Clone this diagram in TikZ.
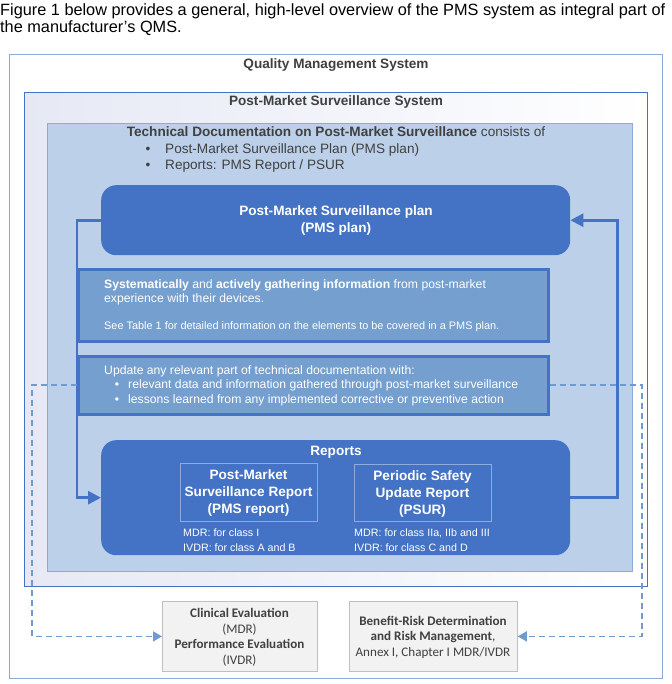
\documentclass[tikz,border=0pt]{standalone}
\usepackage{fontspec}
\setmainfont{Liberation Sans}
\newfontfamily\carlitofont{Carlito}
\usetikzlibrary{arrows.meta}
\definecolor{dblue}{HTML}{4472C4}
\definecolor{qmsline}{HTML}{8EAADB}
\definecolor{tdfill}{HTML}{BDD0E9}
\definecolor{tdline}{HTML}{8EAADB}
\definecolor{midblue}{HTML}{749FCF}
\definecolor{dashblue}{HTML}{6F9BD1}
\definecolor{inline}{HTML}{8FAADC}
\definecolor{greyfill}{HTML}{F2F2F2}
\definecolor{greyline}{HTML}{BFBFBF}
\definecolor{dtext}{HTML}{404040}
\definecolor{lavender}{HTML}{E6E9F5}
\newcommand{\fs}[1]{\fontsize{#1}{#1}\selectfont}
\begin{document}
\begin{tikzpicture}[x=1pt,y=-1pt,
  lbl/.style={inner sep=0pt, text height=0.95em, text depth=0.15em},
  boxnw/.style={anchor=north west, inner sep=0pt},
  bluebox/.style={boxnw, fill=dblue, rounded corners=15pt},
  midbox/.style={boxnw, fill=midblue, draw=dblue, line width=2.6pt},
  subbox/.style={boxnw, draw=inline, line width=0.8pt},
  greybox/.style={boxnw, fill=greyfill, draw=greyline, line width=0.8pt},
  flow/.style={draw=dblue, line width=2.8pt, -{Triangle[length=13pt,width=13pt]}},
  dashflow/.style={draw=dashblue, line width=1.8pt, dash pattern=on 6pt off 4pt, -{Triangle[length=9pt,width=10pt]}},
  wtext/.style={lbl, text=white},
  gtext/.style={lbl, text=dtext}
]
\useasboundingbox (0,0) rectangle (671,684);
\fill[white] (0,0) rectangle (671,684);

% header
\node[lbl, anchor=west, font=\fs{16.3}] (h1) at (0,12) {Figure 1 below provides a general, high-level overview of the PMS system as integral part of};
\node[lbl, anchor=west, font=\fs{16.3}] (h2) at (0,29) {the manufacturer’s QMS.};

% containers
\node[boxnw, draw=qmsline, line width=1.2pt, fill=white, minimum width=653pt, minimum height=624pt] (qms) at (9,54) {};
\node[boxnw, draw=dblue, line width=1pt, left color=lavender, right color=white, minimum width=623pt, minimum height=494pt] (pmss) at (24,92) {};
\node[boxnw, draw=tdline, line width=1pt, fill=tdfill, minimum width=585pt, minimum height=448pt] (tdoc) at (47,123) {};

\node[gtext, font=\bfseries\fs{13.6}] (qmst) at (336,65) {Quality Management System};
\node[gtext, font=\bfseries\fs{13.6}] (pmsst) at (336,102) {Post-Market Surveillance System};
\node[gtext, font=\fs{13.6}] (tdt) at (336,133) {\textbf{Technical Documentation on Post-Market Surveillance} consists of};
\node[gtext, font=\fs{13.6}] (b1) at (148,150) {•};
\node[gtext, font=\fs{13.6}, anchor=west] (b1t) at (165,150) {Post-Market Surveillance Plan (PMS plan)};
\node[gtext, font=\fs{13.6}] (b2) at (148,166) {•};
\node[gtext, font=\fs{13.6}, anchor=west] (b2t) at (165,166) {Reports: PMS Report / PSUR};

% PMS plan
\node[bluebox, minimum width=469pt, minimum height=70pt] (plan) at (101,185) {};
\node[wtext, font=\bfseries\fs{13.6}] (plant1) at (336,212) {Post-Market Surveillance plan};
\node[wtext, font=\bfseries\fs{13.6}] (plant2) at (336,229) {(PMS plan)};

% systematic box
\node[midbox, minimum width=470pt, minimum height=72pt] (sys) at (77,268) {};
\node[wtext, font=\fs{12.2}, anchor=west] (syst1) at (104,284) {\textbf{Systematically} and \textbf{actively gathering information} from post-market};
\node[wtext, font=\fs{12.2}, anchor=west] (syst2) at (104,298) {experience with their devices.};
\node[wtext, font=\fs{10.9}, anchor=west] (syst3) at (104,325) {See Table 1 for detailed information on the elements to be covered in a PMS plan.};

% update box
\node[midbox, minimum width=470pt, minimum height=58pt] (upd) at (77,355) {};
\node[wtext, font=\fs{12.2}, anchor=west] (updt1) at (104,370) {Update any relevant part of technical documentation with:};
\node[wtext, font=\fs{12.2}] (ub1) at (117,384) {•};
\node[wtext, font=\fs{12.2}, anchor=west] (ub1t) at (128,384) {relevant data and information gathered through post-market surveillance};
\node[wtext, font=\fs{12.2}] (ub2) at (117,399) {•};
\node[wtext, font=\fs{12.2}, anchor=west] (ub2t) at (128,399) {lessons learned from any implemented corrective or preventive action};

% reports
\node[bluebox, minimum width=469pt, minimum height=115pt] (rep) at (101,440) {};
\node[wtext, font=\bfseries\fs{13.6}] (rept) at (336,451) {Reports};
\node[subbox, minimum width=137pt, minimum height=58pt] (pmsr) at (180,463) {};
\node[wtext, font=\bfseries\fs{13.6}] (pmsr1) at (248.5,475) {Post-Market};
\node[wtext, font=\bfseries\fs{13.6}] (pmsr2) at (248.5,492) {Surveillance Report};
\node[wtext, font=\bfseries\fs{13.6}] (pmsr3) at (248.5,509) {(PMS report)};
\node[subbox, minimum width=137pt, minimum height=57pt] (psur) at (354,464) {};
\node[wtext, font=\bfseries\fs{13.6}] (psur1) at (422.5,476) {Periodic Safety};
\node[wtext, font=\bfseries\fs{13.6}] (psur2) at (422.5,493) {Update Report};
\node[wtext, font=\bfseries\fs{13.6}] (psur3) at (422.5,510) {(PSUR)};
\node[wtext, font=\fs{10.7}, anchor=west] (m1) at (183,532) {MDR: for class I};
\node[wtext, font=\fs{10.7}, anchor=west] (m2) at (183,547) {IVDR: for class A and B};
\node[wtext, font=\fs{10.7}, anchor=west] (m3) at (354,532) {MDR: for class IIa, IIb and III};
\node[wtext, font=\fs{10.7}, anchor=west] (m4) at (354,547) {IVDR: for class C and D};

% bottom boxes
\node[greybox, minimum width=155pt, minimum height=70pt] (clin) at (162,601) {};
\node[gtext, font=\carlitofont\bfseries\fs{13.1}] (c1) at (239.5,613) {Clinical Evaluation};
\node[gtext, font=\carlitofont\fs{13.1}] (c2) at (239.5,629) {(MDR)};
\node[gtext, font=\carlitofont\bfseries\fs{13.1}] (c3) at (239.5,644) {Performance Evaluation};
\node[gtext, font=\carlitofont\fs{13.1}] (c4) at (239.5,660) {(IVDR)};
\node[greybox, minimum width=168pt, minimum height=70pt] (ben) at (349,601) {};
\node[gtext, font=\carlitofont\bfseries\fs{13.1}] (bt1) at (433,621) {Benefit-Risk Determination};
\node[gtext, font=\carlitofont\fs{13.1}] (bt2) at (433,636) {\textbf{and Risk Management},};
\node[gtext, font=\carlitofont\fs{13.1}] (bt3) at (433,652) {Annex I, Chapter I MDR/IVDR};

% connectors
\draw[flow] (plan.west) -- ++(-24,0) |- (rep.west);
\draw[flow] (rep.east) -- ++(47,0) |- (plan.east);
\draw[dashflow] (upd.west) -- ++(-45,0) |- (clin.west);
\draw[dashflow] (upd.east) -- ++(92,0) |- (ben.east);
\end{tikzpicture}
\end{document}
